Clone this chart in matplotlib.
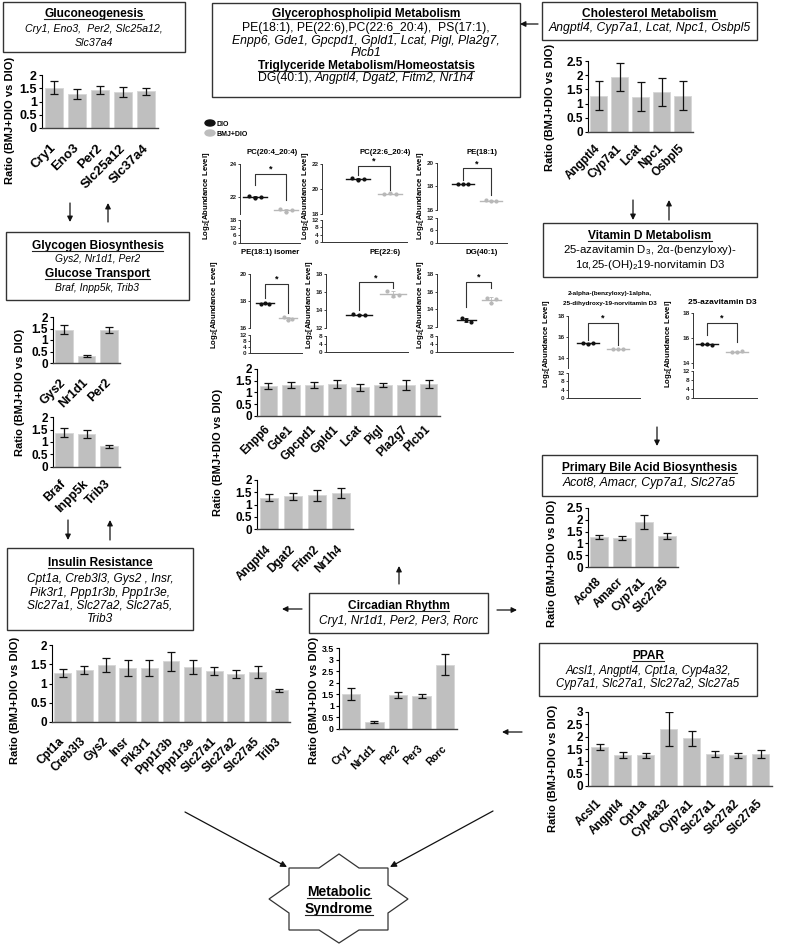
import numpy as np
import matplotlib
matplotlib.use('Agg')
from matplotlib import pyplot as plt
from matplotlib.patches import Rectangle, Polygon, Ellipse

W, H = 788, 944

plt.rcParams['font.family'] = ['Liberation Sans', 'DejaVu Sans']
plt.rcParams['mathtext.default'] = 'regular'
plt.rcParams['axes.linewidth'] = 0.8

# ---------------- bar chart data (ratio BMJ+DIO vs DIO, +/- error) ----------------
gluco_genes = ['Cry1', 'Eno3', 'Per2', 'Slc25a12', 'Slc37a4']
gluco_ratio = [1.52, 1.30, 1.43, 1.35, 1.38]
gluco_err = [0.25, 0.19, 0.14, 0.18, 0.14]

glyco_genes = ['Gys2', 'Nr1d1', 'Per2']
glyco_ratio = [1.45, 0.30, 1.43]
glyco_err = [0.20, 0.05, 0.12]

transport_genes = ['Braf', 'Inpp5k', 'Trib3']
transport_ratio = [1.37, 1.32, 0.82]
transport_err = [0.18, 0.15, 0.05]

insulin_genes = ['Cpt1a', 'Creb3l3', 'Gys2', 'Insr', 'Pik3r1', 'Ppp1r3b', 'Ppp1r3e',
                 'Slc27a1', 'Slc27a2', 'Slc27a5', 'Trib3']
insulin_ratio = [1.27, 1.35, 1.47, 1.41, 1.41, 1.58, 1.43, 1.32, 1.24, 1.30, 0.83]
insulin_err = [0.10, 0.10, 0.18, 0.21, 0.21, 0.25, 0.19, 0.10, 0.10, 0.15, 0.04]

gpl_genes = ['Enpp6', 'Gde1', 'Gpcpd1', 'Gpld1', 'Lcat', 'Pigl', 'Pla2g7', 'Plcb1']
gpl_ratio = [1.27, 1.32, 1.32, 1.37, 1.22, 1.32, 1.33, 1.37]
gpl_err = [0.14, 0.14, 0.12, 0.18, 0.14, 0.10, 0.21, 0.17]

tg_genes = ['Angptl4', 'Dgat2', 'Fitm2', 'Nr1h4']
tg_ratio = [1.28, 1.33, 1.37, 1.47]
tg_err = [0.13, 0.13, 0.21, 0.20]

chol_genes = ['Angptl4', 'Cyp7a1', 'Lcat', 'Npc1', 'Osbpl5']
chol_ratio = [1.28, 1.93, 1.25, 1.40, 1.28]
chol_err = [0.50, 0.50, 0.50, 0.49, 0.50]

bile_genes = ['Acot8', 'Amacr', 'Cyp7a1', 'Slc27a5']
bile_ratio = [1.27, 1.23, 1.92, 1.30]
bile_err = [0.10, 0.10, 0.30, 0.12]

ppar_genes = ['Acsl1', 'Angptl4', 'Cpt1a', 'Cyp4a32', 'Cyp7a1', 'Slc27a1', 'Slc27a2', 'Slc27a5']
ppar_ratio = [1.57, 1.25, 1.25, 2.30, 1.93, 1.30, 1.24, 1.30]
ppar_err = [0.12, 0.12, 0.10, 0.68, 0.29, 0.12, 0.09, 0.15]

circ_genes = ['Cry1', 'Nr1d1', 'Per2', 'Per3', 'Rorc']
circ_ratio = [1.52, 0.30, 1.47, 1.42, 2.77]
circ_err = [0.25, 0.06, 0.11, 0.08, 0.45]

# ---------------- metabolite data (log2 abundance, 3 replicates) ----------------
pc204_dio = [22.05, 21.95, 22.00]
pc204_bmj = [21.25, 21.10, 21.20]
pc226_dio = [20.85, 20.75, 20.80]
pc226_bmj = [19.60, 19.65, 19.60]
pe181_dio = [18.25, 18.20, 18.20]
pe181_bmj = [16.85, 16.75, 16.80]
pe181i_dio = [17.80, 17.85, 17.80]
pe181i_bmj = [16.85, 16.60, 16.70]
pe226_dio = [13.55, 13.45, 13.50]
pe226_bmj = [16.10, 15.55, 15.65]
dg401_dio = [13.00, 12.75, 12.60]
dg401_bmj = [15.25, 14.70, 15.20]
vitd_nor_dio = [15.45, 15.35, 15.40]
vitd_nor_bmj = [14.80, 14.82, 14.78]
vitd_aza_dio = [15.50, 15.52, 15.48]
vitd_aza_bmj = [14.90, 14.85, 14.95]

fig = plt.figure(figsize=(W / 100, H / 100), dpi=100)
ov = fig.add_axes([0, 0, 1, 1])
ov.set_xlim(0, W)
ov.set_ylim(H, 0)
ov.axis('off')
renderer = fig.canvas.get_renderer()


def add_ax(x0, y0, x1, y1):
    return fig.add_axes([x0 / W, 1 - y1 / H, (x1 - x0) / W, (y1 - y0) / H])


def rich_line(cx, y, pieces, size, gap=3.5, z=2):
    texts, widths = [], []
    for s, st in pieces:
        t = ov.text(0, y, s, fontsize=size, ha='left', va='baseline', zorder=z,
                    fontweight='bold' if 'b' in st else 'normal',
                    fontstyle='italic' if 'i' in st else 'normal')
        texts.append(t)
        widths.append(t.get_window_extent(renderer).width)
    total = sum(widths) + gap * (len(pieces) - 1)
    x = cx - total / 2
    for t, w, (s, st) in zip(texts, widths, pieces):
        t.set_x(x)
        if 'u' in st:
            ov.plot([x, x + w], [y + 1.8, y + 1.8], color='#222', lw=0.8, zorder=z)
        x += w + gap


def box(x0, y0, x1, y1, lines, size=8.6, tsize=8.6):
    ov.add_patch(Rectangle((x0, y0), x1 - x0, y1 - y0, fill=False, ec='#333', lw=1.0))
    cx = (x0 + x1) / 2
    for y, pieces in lines:
        sz = tsize if any('u' in st for _, st in pieces) else size
        rich_line(cx, y, pieces, sz)


def arrow(x0, y0, x1, y1, ms=8):
    ov.annotate('', xy=(x1, y1), xytext=(x0, y0),
                arrowprops=dict(arrowstyle='-|>', color='#111', lw=0.9,
                                mutation_scale=ms, shrinkA=0, shrinkB=0))


def ratio_label(x, y):
    ov.text(x, y, 'Ratio (BMJ+DIO vs DIO)', rotation=90, ha='center', va='center',
            fontsize=8, fontweight='bold')


def bar_panel(rect, genes, ratio, err, ymax, gap, fs=8.5, yfs=8.5):
    ax = add_ax(*rect)
    ax.patch.set_visible(False)
    x = np.arange(len(genes))
    ax.bar(x, ratio, width=0.78, color='#bfbfbf', edgecolor='#d6d6d6', linewidth=0.6, zorder=2)
    ax.errorbar(x, ratio, yerr=err, fmt='none', ecolor='#111', elinewidth=0.9,
                capsize=2.6, capthick=0.9, zorder=3)
    ax.set_xlim(-0.5, len(genes) - 0.5)
    ax.set_ylim(0, ymax)
    ticks = np.arange(0, ymax + 0.01, 0.5)
    ax.set_yticks(ticks)
    ax.set_yticklabels([f'{t:g}' for t in ticks], fontsize=yfs, fontweight='bold')
    ax.set_xticks(x)
    ax.set_xticklabels(genes, rotation=45, ha='right', va='center', rotation_mode='anchor',
                       fontsize=fs, fontweight='bold')
    pad_px = gap + 0.35 * fs * 1.39 * 1.15
    ax.tick_params(axis='x', length=0, pad=pad_px * 0.72)
    ax.tick_params(axis='y', length=2.5, width=0.8, pad=1.2)
    for s in ['top', 'right']:
        ax.spines[s].set_visible(False)
    ax.spines['bottom'].set_color('#444')
    ax.spines['bottom'].set_linewidth(1.0)
    return ax


def scatter_panel(p):
    x0, x1 = p['x']
    d = p['bmj_px'] - p['dio_px']
    xl = (-(p['dio_px'] - x0) / d, (x1 - p['dio_px']) / d)
    up = add_ax(x0, p['up_px'][0], x1, p['up_px'][1])
    lo = add_ax(x0, p['lo_px'][0], x1, p['lo_px'][1])
    for a in (up, lo):
        a.set_xlim(xl)
        a.patch.set_visible(False)
        for s in ['top', 'right']:
            a.spines[s].set_visible(False)
        for s in ['left', 'bottom']:
            a.spines[s].set_color('#333')
            a.spines[s].set_linewidth(0.7)
        a.set_xticks([])
        a.tick_params(axis='y', length=1.6, width=0.6, pad=0.8, colors='#222')
    up.spines['bottom'].set_visible(False)
    up.set_ylim(p['up_lim'])
    up.set_yticks(p['up_ticks'])
    up.set_yticklabels([str(t) for t in p['up_ticks']], fontsize=4.6, fontweight='bold')
    lo.set_ylim(0, p['lo_ticks'][-1])
    lo.set_yticks(p['lo_ticks'])
    lo.set_yticklabels([str(t) for t in p['lo_ticks']], fontsize=4.6, fontweight='bold')
    for i, (vals, col) in enumerate([(p['dio'], '#111'), (p['bmj'], '#b8b8b8')]):
        xs = i + np.array([-0.18, 0.0, 0.18])
        up.plot(xs, vals, 'o', color=col, ms=2.0, clip_on=False, zorder=3)
        m = np.mean(vals)
        sd = np.std(vals, ddof=1)
        up.plot([i - 0.38, i + 0.38], [m, m], color=col, lw=1.0, zorder=2)
        up.errorbar(i, m, yerr=sd, color=col, capsize=1.5, lw=0.6, capthick=0.6)
    top, lb, rb = p['bracket']
    up.plot([0, 0, 1, 1], [lb, top, top, rb], color='#333', lw=0.8, clip_on=False)
    up.text(0.5, top, '*', ha='center', va='bottom', fontsize=6.5, fontweight='bold')
    for k, line in enumerate(p['title']):
        ov.text(p['title_xy'][0], p['title_xy'][1] + k * p.get('tstep', 10), line,
                ha='center', va='center', fontsize=p.get('tsize', 5.6), fontweight='bold')
    ov.text(p['ylab_xy'][0], p['ylab_xy'][1], 'Log$_2$[Abundance Level]', rotation=90,
            ha='center', va='center', fontsize=5.6, fontweight='bold')


# ---------------- boxes ----------------
box(3, 2, 185, 52, [
    (17, [('Gluconeogenesis', 'bu')]),
    (32, [('Cry1, Eno3,  Per2, Slc25a12,', 'i')]),
    (46, [('Slc37a4', 'i')]),
], size=7.7)
box(6, 232, 189, 300, [
    (249, [('Glycogen Biosynthesis', 'bu')]),
    (262, [('Gys2, Nr1d1, Per2', 'i')]),
    (277, [('Glucose Transport', 'bu')]),
    (291, [('Braf, Inpp5k, Trib3', 'i')]),
], size=7.4)
box(7, 548, 193, 630, [
    (566, [('Insulin Resistance', 'bu')]),
    (582, [('Cpt1a, Creb3l3, Gys2 , Insr,', 'i')]),
    (596, [('Pik3r1, Ppp1r3b, Ppp1r3e,', 'i')]),
    (609, [('Slc27a1, Slc27a2, Slc27a5,', 'i')]),
    (622, [('Trib3', 'i')]),
])
box(212, 3, 520, 97, [
    (17, [('Glycerophospholipid Metabolism', 'bu')]),
    (31, [('PE(18:1), PE(22:6),PC(22:6_20:4),  PS(17:1),', 'n')]),
    (44, [('Enpp6, Gde1, Gpcpd1, Gpld1, Lcat, Pigl, Pla2g7,', 'i')]),
    (56, [('Plcb1', 'i')]),
    (69, [('Triglyceride Metabolism/Homeostatsis', 'bu')]),
    (81, [('DG(40:1),', 'n'), ('Angptl4, Dgat2, Fitm2, Nr1h4', 'i')]),
], size=8.8)
box(542, 2, 757, 40, [
    (17, [('Cholesterol Metabolism', 'bu')]),
    (31, [('Angptl4, Cyp7a1, Lcat, Npc1, Osbpl5', 'i')]),
], size=8.8)
box(543, 223, 757, 277, [
    (239, [('Vitamin D Metabolism', 'bu')]),
    (253, [('25-azavitamin D$_3$, 2α-(benzyloxy)-', 'n')]),
    (268, [('1α,25-(OH)$_2$19-norvitamin D3', 'n')]),
], size=8.2)
box(542, 455, 757, 496, [
    (471, [('Primary Bile Acid Biosynthesis', 'bu')]),
    (486, [('Acot8, Amacr, Cyp7a1, Slc27a5', 'i')]),
], size=8.8)
box(539, 643, 757, 696, [
    (659, [('PPAR', 'bu')]),
    (674, [('Acsl1, Angptl4, Cpt1a, Cyp4a32,', 'i')]),
    (687, [('Cyp7a1, Slc27a1, Slc27a2, Slc27a5', 'i')]),
], size=8.3)
box(309, 593, 488, 633, [
    (609, [('Circadian Rhythm', 'bu')]),
    (624, [('Cry1, Nr1d1, Per2, Per3, Rorc', 'i')]),
])

# ---------------- arrows ----------------
arrow(70, 203, 70, 222)
arrow(108, 222, 108, 203)
arrow(68, 520, 68, 540)
arrow(110, 540, 110, 520)
arrow(538, 24, 520, 24)
arrow(633, 200, 633, 220)
arrow(669, 220, 669, 200)
arrow(657, 427, 657, 446)
arrow(399, 584, 399, 566)
arrow(302, 609, 282, 609)
arrow(497, 610, 517, 610)
arrow(522, 732, 502, 732)
arrow(185, 812, 287, 867, ms=9)
arrow(493, 811, 390, 867, ms=9)

# ---------------- metabolic syndrome star ----------------
star = [(339, 854), (359, 868), (388, 868), (388, 885), (408, 899), (388, 913),
        (388, 930), (359, 930), (339, 943), (319, 930), (289, 930), (289, 913),
        (269, 899), (289, 885), (289, 868), (319, 868)]
ov.add_patch(Polygon(star, closed=True, fc='white', ec='#333', lw=0.9, zorder=3))
rich_line(339, 896, [('Metabolic', 'bu')], 10, z=4)
rich_line(339, 913, [('Syndrome', 'bu')], 10, z=4)

# ---------------- bar panels ----------------
bar_panel((42, 75, 158, 128), gluco_genes, gluco_ratio, gluco_err, 2, gap=13, fs=9.5, yfs=9)
ratio_label(10, 120)
bar_panel((53, 317, 120, 363), glyco_genes, glyco_ratio, glyco_err, 2, gap=13, fs=9)
bar_panel((53, 417, 120, 467), transport_genes, transport_ratio, transport_err, 2, gap=10, fs=9)
ratio_label(20, 392)
bar_panel((52, 645, 290, 722), insulin_genes, insulin_ratio, insulin_err, 2, gap=13)
ratio_label(15, 700)
bar_panel((257, 369, 440, 416), gpl_genes, gpl_ratio, gpl_err, 2, gap=7)
bar_panel((257, 480, 353, 529), tg_genes, tg_ratio, tg_err, 2, gap=14)
ratio_label(218, 452)
bar_panel((588, 61, 693, 132), chol_genes, chol_ratio, chol_err, 2.5, gap=10)
ratio_label(550, 107)
bar_panel((588, 508, 678, 567), bile_genes, bile_ratio, bile_err, 2.5, gap=8)
ratio_label(552, 563)
bar_panel((588, 712, 772, 786), ppar_genes, ppar_ratio, ppar_err, 3, gap=11)
ratio_label(553, 768)
bar_panel((339, 648, 457, 729), circ_genes, circ_ratio, circ_err, 3.5, gap=14, fs=7.5, yfs=6.3)
ratio_label(314, 700)

# ---------------- metabolite panels ----------------
panels = [
    dict(title=['PC(20:4_20:4)'], title_xy=(272, 153), ylab_xy=(207, 196), x=(240, 300),
         up_px=(164, 213.5), up_lim=(21, 24), up_ticks=[22, 24], lo_px=(220, 243),
         lo_ticks=[0, 6, 12, 18], dio_px=255, bmj_px=286, dio=pc204_dio, bmj=pc204_bmj,
         bracket=(23.4, 22.7, 21.8)),
    dict(title=['PC(22:6_20:4)'], title_xy=(385, 153), ylab_xy=(306, 196), x=(322, 407),
         up_px=(164, 214), up_lim=(18, 22), up_ticks=[18, 20, 22], lo_px=(220, 242),
         lo_ticks=[0, 4, 8, 12], dio_px=358, bmj_px=390, dio=pc226_dio, bmj=pc226_bmj,
         bracket=(21.84, 21.1, 19.9)),
    dict(title=['PE(18:1)'], title_xy=(482, 152), ylab_xy=(421, 196), x=(437, 507),
         up_px=(163, 210), up_lim=(16, 20), up_ticks=[16, 18, 20], lo_px=(218, 243),
         lo_ticks=[0, 6, 12], dio_px=463, bmj_px=491, dio=pe181_dio, bmj=pe181_bmj,
         bracket=(19.57, 18.55, 17.28)),
    dict(title=['PE(18:1) isomer'], title_xy=(270, 253), ylab_xy=(215, 305), x=(250, 302),
         up_px=(274, 328), up_lim=(16, 20), up_ticks=[16, 18, 20], lo_px=(335, 353),
         lo_ticks=[0, 4, 8, 12], dio_px=265, bmj_px=288, dio=pe181i_dio, bmj=pe181i_bmj,
         bracket=(19.26, 18.22, 17.1)),
    dict(title=['PE(22:6)'], title_xy=(385, 253), ylab_xy=(310, 305), x=(326, 408),
         up_px=(274, 328), up_lim=(12, 18), up_ticks=[12, 14, 16, 18], lo_px=(336, 352),
         lo_ticks=[0, 4, 8], dio_px=359, bmj_px=393, dio=pe226_dio, bmj=pe226_bmj,
         bracket=(17.1, 14.0, 16.45)),
    dict(title=['DG(40:1)'], title_xy=(482, 253), ylab_xy=(421, 305), x=(437, 513),
         up_px=(274, 327), up_lim=(12, 18), up_ticks=[12, 14, 16, 18], lo_px=(336, 352),
         lo_ticks=[0, 4, 8], dio_px=466, bmj_px=491, dio=dg401_dio, bmj=dg401_bmj,
         bracket=(17.1, 14.26, 16.4)),
    dict(title=['2-alpha-(benzyloxy)-1alpha,', '25-dihydroxy-19-norvitamin D3'],
         title_xy=(610, 293), tsize=4.6, tstep=10, ylab_xy=(547, 344), x=(568, 640),
         up_px=(316, 368), up_lim=(13, 18), up_ticks=[14, 16, 18], lo_px=(373, 398),
         lo_ticks=[0, 4, 8, 12], dio_px=588, bmj_px=618, dio=vitd_nor_dio, bmj=vitd_nor_bmj,
         bracket=(17.33, 15.7, 15.24)),
    dict(title=['25-azavitamin D3'], title_xy=(722, 303), tsize=6.0, ylab_xy=(669, 344),
         x=(693, 757), up_px=(313, 368), up_lim=(13.6, 18), up_ticks=[14, 16, 18],
         lo_px=(371, 398), lo_ticks=[0, 4, 8, 12], dio_px=707, bmj_px=737,
         dio=vitd_aza_dio, bmj=vitd_aza_bmj, bracket=(17.2, 16.24, 15.7)),
]
for p in panels:
    scatter_panel(p)

# legend
ov.add_patch(Ellipse((210, 123), 10, 6, color='#111'))
ov.add_patch(Ellipse((210, 133), 10, 6, color='#bdbdbd'))
ov.text(217, 125, 'DIO', fontsize=5, fontweight='bold', va='center')
ov.text(217, 135, 'BMJ+DIO', fontsize=5, fontweight='bold', va='center')

fig.savefig('out.png', dpi=100)
